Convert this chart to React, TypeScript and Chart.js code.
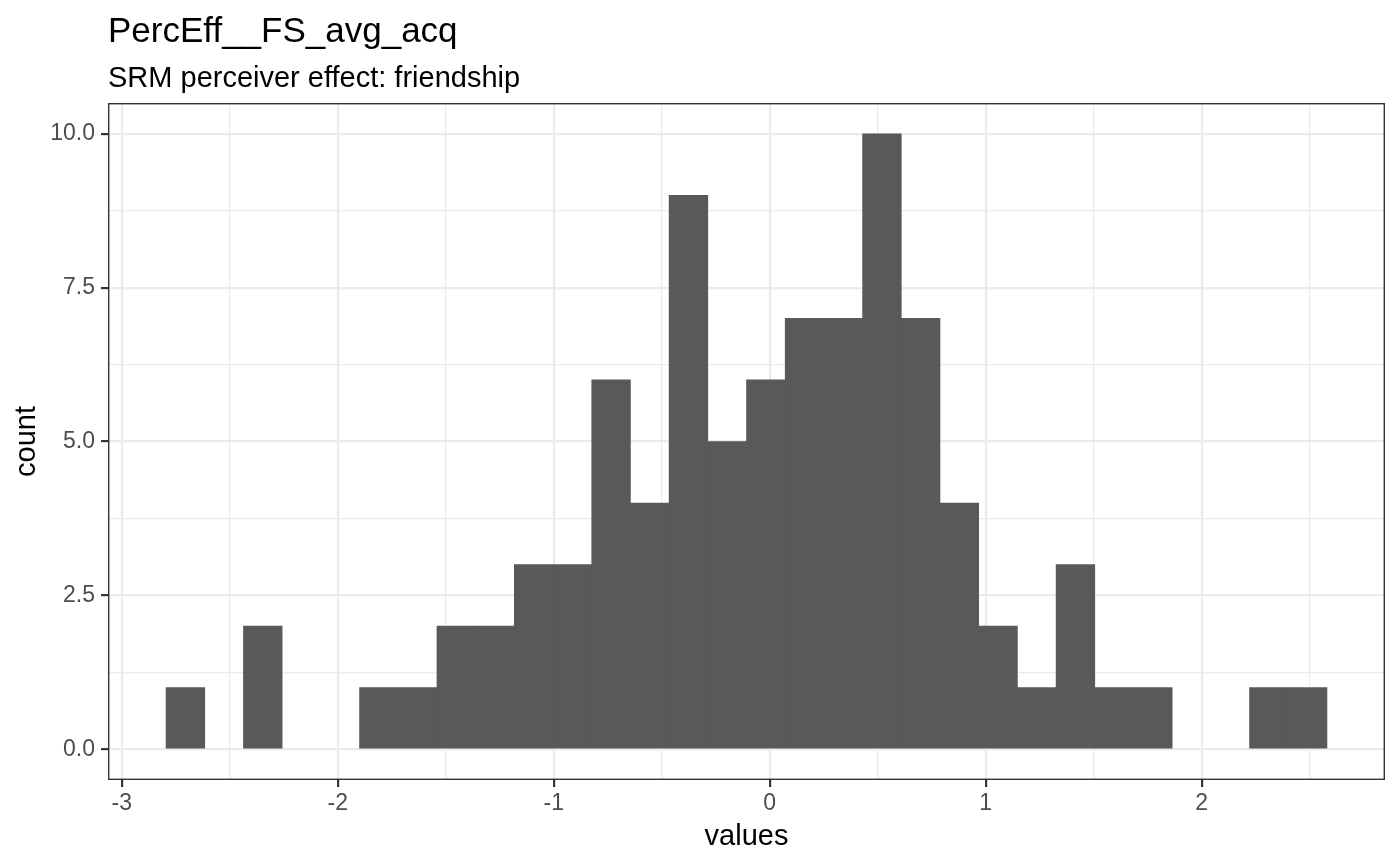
import { useEffect, useRef } from "react";
import { Chart, registerables } from "chart.js";

Chart.register(...registerables);

// Histogram bins (30 bins, midpoints) and counts
const binMids = [
  -2.7054, -2.5262, -2.3471, -2.1679, -1.9887, -1.8096, -1.6304, -1.4512,
  -1.2721, -1.0929, -0.9137, -0.7345, -0.5554, -0.3762, -0.197, -0.0179,
  0.1613, 0.3405, 0.5196, 0.6988, 0.878, 1.0572, 1.2363, 1.4155, 1.5947,
  1.7738, 1.953, 2.1322, 2.3113, 2.4905,
];
const counts = [
  1, 0, 2, 0, 0, 1, 1, 2, 2, 3, 3, 6, 4, 9, 5, 6, 7, 7, 10, 7, 4, 2, 1, 3, 1,
  1, 0, 0, 1, 1,
];

const xMajor = [-3, -2, -1, 0, 1, 2];
const xMinor = [-2.5, -1.5, -0.5, 0.5, 1.5, 2.5];
const yMajor = [0, 2.5, 5, 7.5, 10];
const yMinor = [1.25, 3.75, 6.25, 8.75];

const titleText = "PercEff__FS_avg_acq";
const subtitleText = "SRM perceiver effect: friendship";
const xTitle = "values";
const yTitle = "count";

const FONT = "'Liberation Sans', Arial, Helvetica, sans-serif";

const isMajor = (list: number[], v: number) =>
  list.some((m) => Math.abs(m - v) < 1e-9);

// draws titles, axis titles and the panel border
const decorPlugin = {
  id: "decor",
  afterDraw(chart: any) {
    const { ctx, chartArea } = chart;
    const { left, right, top, bottom } = chartArea;
    ctx.save();
    ctx.strokeStyle = "#333333";
    ctx.lineWidth = 1.4;
    ctx.strokeRect(left + 0.7, top + 0.7, right - left - 1.4, bottom - top - 1.4);

    ctx.fillStyle = "#000000";
    ctx.textAlign = "left";
    ctx.textBaseline = "alphabetic";
    ctx.font = `35px ${FONT}`;
    ctx.fillText(titleText, left, 42);
    ctx.font = `29px ${FONT}`;
    ctx.fillText(subtitleText, left, 87);

    ctx.textAlign = "center";
    ctx.fillText(xTitle, (left + right) / 2, 845);
    ctx.translate(35, (top + bottom) / 2);
    ctx.rotate(-Math.PI / 2);
    ctx.fillText(yTitle, 0, 0);
    ctx.restore();
  },
};

export default function App() {
  const canvasRef = useRef<HTMLCanvasElement>(null);

  useEffect(() => {
    if (!canvasRef.current) return;
    const chart = new Chart(canvasRef.current, {
      type: "bar",
      data: {
        datasets: [
          {
            data: binMids.map((x, i) => ({ x, y: counts[i] })),
            backgroundColor: (c: any) =>
              counts[c.dataIndex] > 0 ? "#595959" : "rgba(0,0,0,0)",
            borderWidth: 0,
            barPercentage: 1,
            categoryPercentage: 1,
          },
        ],
      },
      options: {
        animation: false,
        responsive: false,
        devicePixelRatio: 1,
        layout: { padding: { left: 0, top: 103, right: 15, bottom: 0 } },
        plugins: {
          legend: { display: false },
          tooltip: { enabled: false },
        },
        scales: {
          x: {
            type: "linear",
            offset: false,
            min: -3.0638,
            max: 2.8488,
            afterBuildTicks: (scale: any) => {
              scale.ticks = [...xMajor, ...xMinor]
                .sort((a, b) => a - b)
                .map((value) => ({ value }));
            },
            afterFit: (scale: any) => {
              scale.height = 85;
            },
            border: { display: false },
            grid: {
              offset: false,
              color: "#EBEBEB",
              lineWidth: (c: any) => (isMajor(xMajor, c.tick.value) ? 2.2 : 1.2),
              drawTicks: true,
              tickLength: 7,
              tickWidth: 2.2,
              tickColor: (c: any) =>
                isMajor(xMajor, c.tick.value) ? "#333333" : "rgba(0,0,0,0)",
            },
            ticks: {
              autoSkip: false,
              maxRotation: 0,
              padding: 3,
              color: "#4D4D4D",
              font: { family: FONT, size: 23 },
              callback: (v: any) =>
                isMajor(xMajor, Number(v)) ? String(Number(v)) : "",
            },
          },
          y: {
            type: "linear",
            min: -0.5,
            max: 10.5,
            afterBuildTicks: (scale: any) => {
              scale.ticks = [...yMajor, ...yMinor]
                .sort((a, b) => a - b)
                .map((value) => ({ value }));
            },
            afterFit: (scale: any) => {
              scale.width = 108;
            },
            border: { display: false },
            grid: {
              color: "#EBEBEB",
              lineWidth: (c: any) => (isMajor(yMajor, c.tick.value) ? 2.2 : 1.2),
              drawTicks: true,
              tickLength: 7,
              tickWidth: 2.2,
              tickColor: (c: any) =>
                isMajor(yMajor, c.tick.value) ? "#333333" : "rgba(0,0,0,0)",
            },
            ticks: {
              autoSkip: false,
              padding: 6,
              color: "#4D4D4D",
              font: { family: FONT, size: 23 },
              callback: (v: any) =>
                isMajor(yMajor, Number(v)) ? Number(v).toFixed(1) : "",
            },
          },
        },
      },
      plugins: [decorPlugin],
    });
    return () => chart.destroy();
  }, []);

  return (
    <div
      style={{
        position: "absolute",
        left: 0,
        top: 0,
        width: 1400,
        height: 865,
        background: "#ffffff",
      }}
    >
      <canvas ref={canvasRef} width={1400} height={865} />
    </div>
  );
}
